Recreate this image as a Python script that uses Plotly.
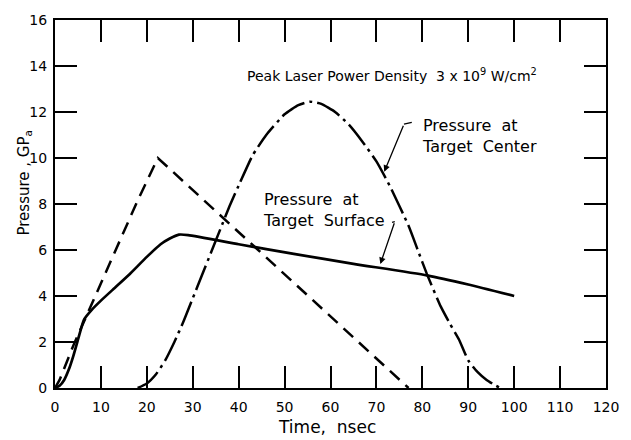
import plotly.graph_objects as go

# Pressure at target surface (solid)
surf_t = [0, 1, 2, 3, 4, 5, 6, 6.4, 8, 10, 13, 16, 20, 23, 25, 27, 29, 40, 52, 65, 81, 90, 100]
surf_p = [0, 0.1, 0.35, 0.8, 1.4, 2.1, 2.8, 3.0, 3.4, 3.8, 4.35, 4.9, 5.7, 6.25, 6.5, 6.67, 6.65, 6.25, 5.83, 5.4, 4.9, 4.5, 4.0]

# Laser pulse (dashed)
laser_t = [0, 1, 2, 3, 4, 6, 8, 10, 14, 18, 22.4, 77]
laser_p = [0, 0.35, 0.85, 1.35, 1.85, 2.75, 3.65, 4.55, 6.35, 8.15, 10, 0]

# Pressure at target center (dash-dot)
cent_t = [18, 20, 22, 24, 26, 28, 30, 32, 34, 36, 38, 40, 43, 46, 50, 53, 55.5, 58, 61, 64, 67, 70, 73,
          77, 79, 81, 84, 86, 88, 90, 92, 94, 96, 97]
cent_p = [0, 0.2, 0.6, 1.2, 2.0, 2.9, 3.9, 4.9, 5.9, 6.9, 7.9, 8.8, 10.1, 11.0, 11.9, 12.3, 12.45, 12.35,
          12.0, 11.45, 10.7, 9.85, 8.75, 7.05, 6.0, 4.95, 3.55, 2.8, 2.1, 1.2, 0.7, 0.35, 0.1, 0]

x_ticks = [0, 10, 20, 30, 40, 50, 60, 70, 80, 90, 100, 110, 120]
x_labels = ["0", "10", "20", "30", "40", "50", "60", "70", "80", "90", "100", "110", "120"]
y_ticks = [0, 2, 4, 6, 8, 10, 12, 14, 16]

FONT = "DejaVu Sans"
fig = go.Figure()
fig.add_trace(go.Scatter(x=surf_t, y=surf_p, mode="lines", line=dict(color="black", width=2.7, shape="spline", smoothing=0.5)))
fig.add_trace(go.Scatter(x=laser_t, y=laser_p, mode="lines", line=dict(color="black", width=2.5, dash="13px,8px")))
fig.add_trace(go.Scatter(x=cent_t, y=cent_p, mode="lines", line=dict(color="black", width=2.5, dash="26px,5px,3px,5px", shape="spline", smoothing=0.5)))

ann = []
ann.append(dict(x=73.4, y=13.6, xref="x", yref="y", showarrow=False,
                text="Peak Laser Power Density  3 x 10<sup>9</sup> W/cm<sup>2</sup>",
                font=dict(family=FONT, size=14, color="black")))
ann.append(dict(x=79.4, y=10.95, xref="x", yref="y", showarrow=False, xanchor="left", align="left",
                text="Pressure  at<br>Target  Center", font=dict(family=FONT, size=16, color="black")))
ann.append(dict(x=44.9, y=7.74, xref="x", yref="y", showarrow=False, xanchor="left", align="left",
                text="Pressure  at<br>Target  Surface", font=dict(family=FONT, size=16, color="black")))
ann.append(dict(x=71.7, y=9.4, ax=76.0, ay=11.47, xref="x", yref="y", axref="x", ayref="y", text="",
                showarrow=True, arrowhead=2, arrowsize=1, arrowwidth=1.3, arrowcolor="black"))
ann.append(dict(x=70.85, y=5.39, ax=74.0, ay=7.23, xref="x", yref="y", axref="x", ayref="y", text="",
                showarrow=True, arrowhead=2, arrowsize=1, arrowwidth=1.3, arrowcolor="black"))
ann.append(dict(x=-0.056, y=0.556, xref="paper", yref="paper", showarrow=False, textangle=-90,
                xanchor="center", yanchor="middle",
                text="Pressure , GP<sub>a</sub>", font=dict(family=FONT, size=15, color="black")))
ann.append(dict(x=0.493, y=-0.107, xref="paper", yref="paper", showarrow=False,
                xanchor="center", yanchor="middle",
                text="Time,  nsec", font=dict(family=FONT, size=17, color="black")))

shapes = [
    dict(type="line", xref="x", yref="y", x0=76.0, y0=11.47, x1=77.7, y1=11.55, line=dict(color="black", width=1.3)),
    dict(type="line", xref="x", yref="y", x0=73.4, y0=7.2, x1=74.0, y1=7.23, line=dict(color="black", width=1.3)),
]

fig.update_layout(
    width=631, height=440, margin=dict(l=55, r=12, t=14, b=52),
    paper_bgcolor="white", plot_bgcolor="white", showlegend=False,
    annotations=ann, shapes=shapes,
    font=dict(family=FONT, size=14, color="black"),
)
fig.update_xaxes(range=[0, 120], tickvals=x_ticks, ticktext=x_labels, ticks="inside", ticklen=22, tickwidth=1.5,
                 tickcolor="black", showline=True, linecolor="black", linewidth=2, mirror="allticks",
                 showgrid=False, zeroline=False, ticklabelstandoff=5,
                 tickfont=dict(family=FONT, size=14, color="black"))
fig.update_yaxes(range=[0, 16], tickvals=y_ticks, ticks="inside", ticklen=22, tickwidth=1.5,
                 tickcolor="black", showline=True, linecolor="black", linewidth=2, mirror="allticks",
                 showgrid=False, zeroline=False, ticklabelstandoff=3,
                 tickfont=dict(family=FONT, size=14, color="black"))

fig.write_html("out.html")
